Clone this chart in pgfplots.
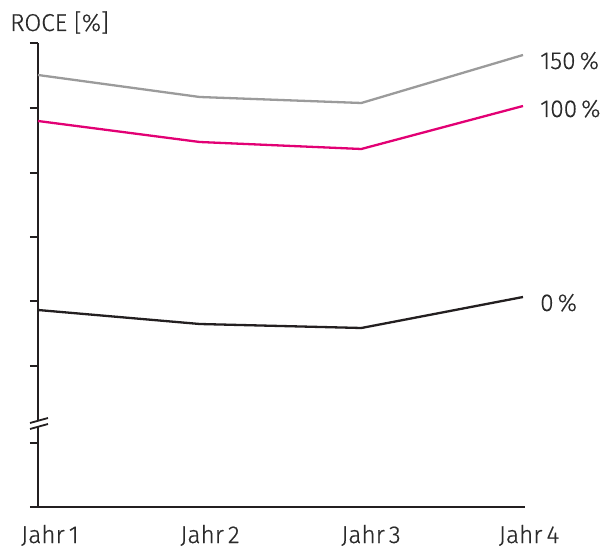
\documentclass[border=0pt]{standalone}
\usepackage{pgfplots}
\pgfplotsset{compat=1.18}
\usepackage{fontspec}
\setmainfont{Fira Sans Light}[UprightFeatures={FakeBold=0.5}]
\definecolor{axisdark}{HTML}{231F20}
\definecolor{txt}{HTML}{2A2A2A}
\definecolor{roce150}{HTML}{9B9B9B}
\definecolor{roce100}{HTML}{E20074}
\definecolor{roce0}{HTML}{231F20}

\begin{document}
\begin{tikzpicture}[font=\fontsize{24.5}{28}\selectfont]
\useasboundingbox (-38bp,-41bp) rectangle (567bp,507bp);
\begin{axis}[
    scale only axis,
    width=485bp, height=464bp,
    xmin=0, xmax=3,
    ymin=0, ymax=464,
    axis x line=none,
    axis y line=left,
    axis line style={-, line width=2.8bp, color=axisdark},
    ytick={64,141,206,270,334,399,464},
    yticklabels={},
    tick align=outside,
    major tick length=8bp,
    ytick style={line width=2.8bp, color=axisdark},
    clip=false,
]
\addplot[roce150, line width=2.3bp] coordinates {(0,432) (1,410) (2,404) (3,452)};
\addplot[roce100, line width=2.3bp] coordinates {(0,386) (1,365) (2,358) (3,401)};
\addplot[roce0, line width=2.3bp] coordinates {(0,197) (1,183) (2,179) (3,210)};
\end{axis}
% x axis line, running out past the y axis like the original
\draw[axisdark, line width=2.8bp] (-8bp,0) -- (487bp,0);
% axis break on the y axis
\fill[white] (-8bp,78bp) -- (10bp,83bp) -- (10bp,89bp) -- (-8bp,84bp) -- cycle;
\draw[axisdark, line width=1.8bp] (-8bp,84bp) -- (10bp,89bp);
\draw[axisdark, line width=1.8bp] (-8bp,78bp) -- (10bp,83bp);
% texts
\node[anchor=base west, text=txt, inner sep=0pt] at (-28bp,476bp) {ROCE [\%]};
\node[anchor=base west, text=txt, inner sep=0pt] at (502bp,438bp) {150\,\%};
\node[anchor=base west, text=txt, inner sep=0pt] at (502bp,390bp) {100\,\%};
\node[anchor=base west, text=txt, inner sep=0pt] at (502bp,196bp) {0\,\%};
\foreach \i/\x in {1/12,2/172,3/333,4/491} {
  \node[anchor=base, text=txt, inner sep=0pt] at (\x bp,-36bp) {Jahr\,\i};
}
\end{tikzpicture}
\end{document}
